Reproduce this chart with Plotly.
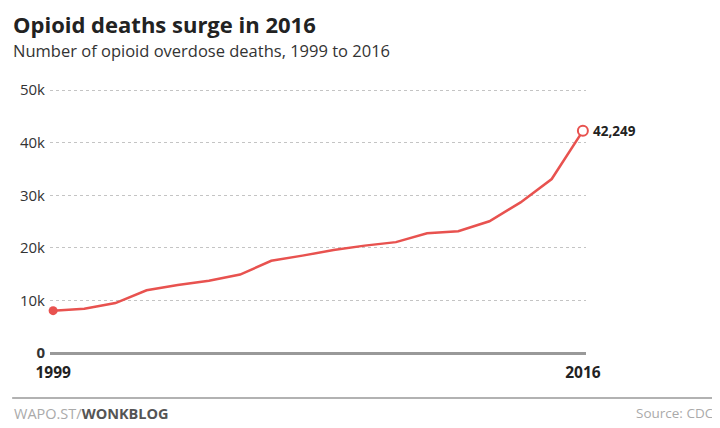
"""
Opioid deaths surge in 2016 - recriação com Plotly
"""

import plotly.graph_objects as go

# Dados
years = list(range(1999, 2017))
deaths = [8050, 8407, 9496, 11920, 12940, 13756, 14918, 17545, 18516,
          19582, 20422, 21089, 22784, 23166, 25052, 28647, 33091, 42249]
y_ticks = [0, 10000, 20000, 30000, 40000, 50000]
y_labels = ['<b>0</b>', '10k', '20k', '30k', '40k', '50k']
x_ticks = [1999, 2016]
x_labels = ['<b>1999</b>', '<b>2016</b>']

# A página tem margem de 8px no body; as posições abaixo são em pixels da imagem
OFF = 8
W, H = 720, 428
L, R, T, B = 40, 142, 80, 83
LINE_COLOR = '#e8524f'
FONT = 'Open Sans'


def px_x(px):
    """Converte pixel horizontal (imagem) para coordenada paper"""
    return (px - OFF - L) / (W - L - R)


def px_y(py):
    """Converte pixel vertical (imagem) para coordenada paper"""
    return (H - B - (py - OFF)) / (H - T - B)


fig = go.Figure()

fig.add_trace(go.Scatter(
    x=years,
    y=deaths,
    mode='lines',
    line=dict(color=LINE_COLOR, width=2.5),
    cliponaxis=False,
    hoverinfo='skip',
))

# Ponto inicial (cheio) e final (aberto)
fig.add_trace(go.Scatter(
    x=[years[0]],
    y=[deaths[0]],
    mode='markers',
    marker=dict(color=LINE_COLOR, size=9),
    cliponaxis=False,
))
fig.add_trace(go.Scatter(
    x=[years[-1]],
    y=[deaths[-1]],
    mode='markers',
    marker=dict(color='white', size=10, line=dict(color=LINE_COLOR, width=2)),
    cliponaxis=False,
))

fig.add_annotation(
    x=years[-1], y=deaths[-1],
    text=f'<b>{deaths[-1]:,}</b>',
    showarrow=False, xanchor='left', xshift=8,
    font=dict(family=FONT, size=13.5, color='#222'),
)

# Títulos
fig.add_annotation(
    xref='paper', yref='paper', x=px_x(10), y=px_y(8),
    text='<b>Opioid deaths surge in 2016</b>',
    showarrow=False, xanchor='left', yanchor='top', borderpad=0,
    font=dict(family=FONT, size=22, color='#222'),
)
fig.add_annotation(
    xref='paper', yref='paper', x=px_x(10), y=px_y(50),
    text='Number of opioid overdose deaths, 1999 to 2016',
    showarrow=False, xanchor='left', yanchor='middle', borderpad=0,
    font=dict(family=FONT, size=16.5, color='#333'),
)

# Rodapé
fig.add_shape(
    type='line', xref='paper', yref='paper',
    x0=px_x(10), x1=px_x(730), y0=px_y(398), y1=px_y(398),
    line=dict(color='#999', width=1.5),
)
fig.add_annotation(
    xref='paper', yref='paper', x=px_x(10), y=px_y(413),
    text='<span style="color:#aaa">WAPO.ST/</span><b>WONKBLOG</b>',
    showarrow=False, xanchor='left', yanchor='middle',
    font=dict(family=FONT, size=14.5, color='#555'),
)
fig.add_annotation(
    xref='paper', yref='paper', x=px_x(716), y=px_y(413),
    text='Source: CDC',
    showarrow=False, xanchor='right', yanchor='middle',
    font=dict(family=FONT, size=13.5, color='#aaa'),
)

fig.update_layout(
    width=W, height=H,
    margin=dict(l=L, r=R, t=T, b=B),
    paper_bgcolor='white',
    plot_bgcolor='white',
    showlegend=False,
    font=dict(family=FONT, size=13, color='#333'),
    xaxis=dict(
        range=[1998.9, 2016.1],
        tickvals=x_ticks,
        ticktext=x_labels,
        showgrid=False,
        zeroline=False,
        showline=False,
        ticks='',
        ticklabelstandoff=8,
        tickfont=dict(family=FONT, size=15.5, color='#222'),
    ),
    yaxis=dict(
        range=[0, 50400],
        tickvals=y_ticks,
        ticktext=y_labels,
        showgrid=True,
        gridcolor='#c4c4c4',
        griddash='dot',
        gridwidth=1,
        zeroline=True,
        zerolinecolor='#999',
        zerolinewidth=3,
        showline=False,
        ticks='',
        ticklabelstandoff=4,
        tickfont=dict(family=FONT, size=15, color='#333'),
    ),
)

fig.write_html('out.html')
